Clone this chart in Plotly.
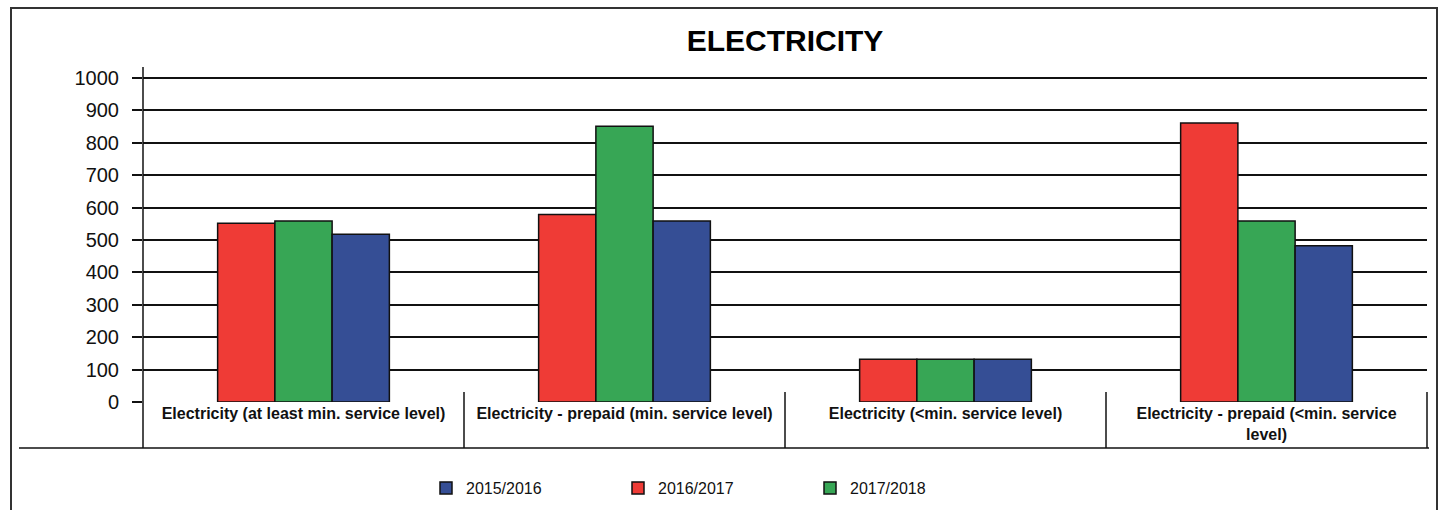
import plotly.graph_objects as go

# Service categories and yearly values
categories = [
    "Electricity (at least min. service level)",
    "Electricity - prepaid (min. service level)",
    "Electricity (&lt;min. service level)",
    "Electricity - prepaid (&lt;min. service<br>level)",
]
values_2015_2016 = [518, 559, 132, 482]
values_2016_2017 = [552, 579, 132, 861]
values_2017_2018 = [559, 851, 132, 559]
y_ticks = [0, 100, 200, 300, 400, 500, 600, 700, 800, 900, 1000]

# Figure geometry (pixels)
W, H = 1442, 510
ML, MR, MT, MB = 143, 15, 67, 108
PW, PH = W - ML - MR, H - MT - MB


def px_x(px):
    return (px - ML) / PW


def px_y(px):
    return (H - MB - px) / PH


RED = "#EF3B36"
GREEN = "#37A655"
BLUE = "#354E95"
FONT = "Liberation Sans"

fig = go.Figure()
series = [
    ("2016/2017", values_2016_2017, RED, 2),
    ("2017/2018", values_2017_2018, GREEN, 3),
    ("2015/2016", values_2015_2016, BLUE, 1),
]
for name, vals, color, rank in series:
    fig.add_trace(go.Bar(
        x=list(range(len(categories))), y=vals, name=name,
        marker=dict(color=color, line=dict(color="#111111", width=1.5)),
        legendrank=rank,
    ))

shapes = []
# outer frame
shapes.append(dict(type="rect", xref="paper", yref="paper",
                   x0=px_x(11), x1=px_x(1437), y0=px_y(530), y1=px_y(8),
                   line=dict(color="#333333", width=2), fillcolor="rgba(0,0,0,0)"))
# vertical axis line, running down into the label row
shapes.append(dict(type="line", xref="paper", yref="paper",
                   x0=0, x1=0, y0=px_y(448), y1=1,
                   line=dict(color="#111111", width=1.5)))
# category dividers
n = len(categories)
for i in range(1, n + 1):
    shapes.append(dict(type="line", xref="paper", yref="paper",
                       x0=i / n, x1=i / n, y0=px_y(392), y1=px_y(448),
                       line=dict(color="#111111", width=1.5)))
# bottom rule of the label row
shapes.append(dict(type="line", xref="paper", yref="paper",
                   x0=px_x(19), x1=px_x(1429), y0=px_y(448), y1=px_y(448),
                   line=dict(color="#111111", width=1.5)))

fig.update_layout(
    width=W, height=H,
    margin=dict(l=ML, r=MR, t=MT, b=MB, autoexpand=False),
    paper_bgcolor="white", plot_bgcolor="white",
    font=dict(family=FONT, color="#111111"),
    barmode="group", bargap=0.465, bargroupgap=0,
    title=dict(text="<b>ELECTRICITY</b>", x=0.5, xref="paper", xanchor="center",
               y=1 - 40 / H, yanchor="middle",
               font=dict(size=30, family=FONT, color="#000000")),
    xaxis=dict(
        range=[-0.5, n - 0.5], tickmode="array",
        tickvals=list(range(n)), ticktext=["<b>" + c + "</b>" for c in categories],
        tickfont=dict(size=16, family=FONT, color="#111111"),
        showgrid=False, zeroline=False, showline=False, ticks="",
        fixedrange=True,
    ),
    yaxis=dict(
        range=[0, 1000 * PH / 324], tickmode="array", tickvals=y_ticks,
        tickfont=dict(size=20, family=FONT, color="#111111"),
        showgrid=True, gridcolor="#111111", gridwidth=1.5,
        zeroline=False, showline=False,
        ticks="outside", ticklen=10, tickwidth=1.5, tickcolor="#111111",
        ticklabelstandoff=9,
    ),
    legend=dict(
        orientation="h", x=px_x(426), xanchor="left",
        y=px_y(488), yanchor="middle",
        font=dict(size=16, family=FONT, color="#111111"),
        entrywidth=147, entrywidthmode="pixels",
        bgcolor="rgba(0,0,0,0)",
    ),
    shapes=shapes,
)

fig.write_html("out.html")
